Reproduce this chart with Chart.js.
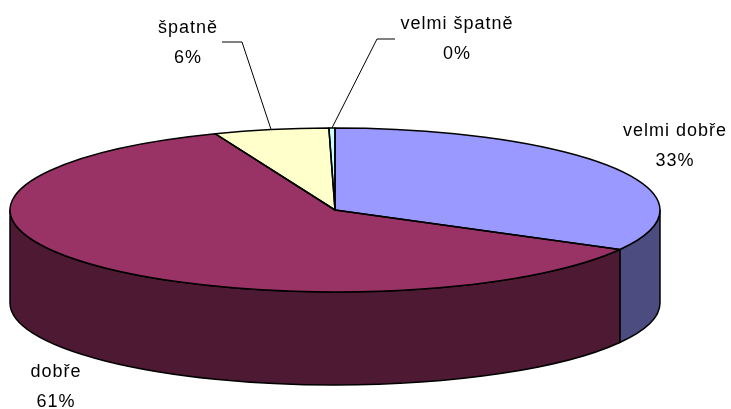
<!DOCTYPE html>
<html>
<head>
<meta charset="utf-8">
<script src="https://cdn.jsdelivr.net/npm/chart.js@4/dist/chart.umd.min.js"></script>
<style>
  body { margin: 0; background: #fff; }
  #wrap { width: 731px; height: 409px; }
</style>
</head>
<body>
<div id="wrap"><canvas id="pie" width="731" height="409"></canvas></div>
<script>
// --- data ---
const categories = ['velmi dobře', 'dobře', 'špatně', 'velmi špatně'];
const shares = [33, 61, 5.7, 0.3];
const topColors = ['#9999FF', '#993366', '#FFFFCC', '#CCFFFF'];
const sideColors = ['#4C4C80', '#4D1933', '#808066', '#668080'];

// --- layout of the tilted pie (ellipse + rim depth) ---
const view = { cx: 335, cy: 210, rx: 325, ry: 82, depth: 93 };
// label text: centre x, first baseline; optional leader elbow
const labelPlaces = [
  { x: 675, y: 136 },
  { x: 56, y: 377 },
  { x: 188, y: 33, lead: [[222, 42], [242, 42]] },
  { x: 457, y: 29, lead: [[395, 39], [377, 39]] }
];

function ellipsePt(a) {
  return [view.cx + view.rx * Math.cos(a), view.cy + view.ry * Math.sin(a)];
}

const pie3d = {
  id: 'pie3d',
  beforeDatasetsDraw(chart) {
    const ctx = chart.ctx;
    const arcs = chart.getDatasetMeta(0).data;
    // rim (only the front half is visible)
    ctx.save();
    ctx.lineWidth = 1.5;
    ctx.strokeStyle = '#000';
    ctx.lineJoin = 'round';
    arcs.forEach((arc, i) => {
      const s = Math.max(arc.startAngle, 0);
      const e = Math.min(arc.endAngle, Math.PI);
      if (e <= s) return;
      ctx.beginPath();
      ctx.ellipse(view.cx, view.cy, view.rx, view.ry, 0, s, e, false);
      ctx.ellipse(view.cx, view.cy + view.depth, view.rx, view.ry, 0, e, s, true);
      ctx.closePath();
      ctx.fillStyle = sideColors[i];
      ctx.fill();
      ctx.stroke();
    });
    ctx.restore();
    // squash the library's round pie into the top face
    const a = arcs[0];
    const R = a.outerRadius;
    ctx.save();
    ctx.translate(view.cx, view.cy);
    ctx.scale(view.rx / R, view.ry / R);
    ctx.translate(-a.x, -a.y);
  },
  afterDatasetsDraw(chart) {
    const ctx = chart.ctx;
    ctx.restore();
    const arcs = chart.getDatasetMeta(0).data;
    const total = shares.reduce((p, v) => p + v, 0);
    ctx.save();
    ctx.lineWidth = 1.5;
    ctx.strokeStyle = '#000';
    ctx.lineJoin = 'round';
    arcs.forEach((arc) => {
      ctx.beginPath();
      ctx.moveTo(view.cx, view.cy);
      ctx.ellipse(view.cx, view.cy, view.rx, view.ry, 0, arc.startAngle, arc.endAngle, false);
      ctx.closePath();
      ctx.stroke();
    });
    // labels
    ctx.fillStyle = '#000';
    ctx.font = '18px "Liberation Sans", Arial, sans-serif';
    ctx.textAlign = 'center';
    ctx.textBaseline = 'alphabetic';
    if ('letterSpacing' in ctx) ctx.letterSpacing = '1px';
    arcs.forEach((arc, i) => {
      const p = labelPlaces[i];
      ctx.fillText(categories[i], p.x, p.y);
      ctx.fillText(Math.round(shares[i] / total * 100) + '%', p.x, p.y + 30);
      if (p.lead) {
        const m = ellipsePt((arc.startAngle + arc.endAngle) / 2);
        ctx.beginPath();
        ctx.lineWidth = 1;
        ctx.moveTo(p.lead[0][0], p.lead[0][1]);
        ctx.lineTo(p.lead[1][0], p.lead[1][1]);
        ctx.lineTo(m[0], m[1]);
        ctx.stroke();
      }
    });
    ctx.restore();
  }
};

new Chart(document.getElementById('pie'), {
  type: 'pie',
  data: {
    labels: categories,
    datasets: [{
      data: shares,
      backgroundColor: topColors,
      borderWidth: 0
    }]
  },
  options: {
    responsive: false,
    animation: false,
    events: [],
    plugins: {
      legend: { display: false },
      tooltip: { enabled: false }
    }
  },
  plugins: [pie3d]
});
</script>
</body>
</html>
